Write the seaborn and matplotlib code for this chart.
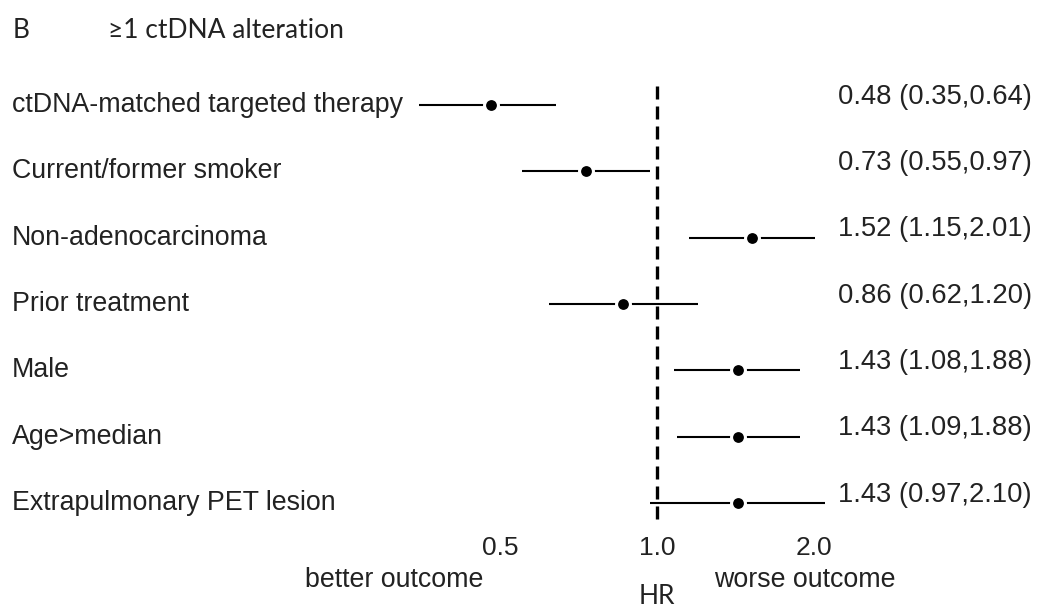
import matplotlib
matplotlib.use("Agg")
import matplotlib.pyplot as plt
import matplotlib.transforms as mtransforms
import seaborn as sns
import pandas as pd

# ---- data ----
labels = ["ctDNA-matched targeted therapy", "Current/former smoker", "Non-adenocarcinoma",
          "Prior treatment", "Male", "Age>median", "Extrapulmonary PET lesion"]
hr = [0.48, 0.73, 1.52, 0.86, 1.43, 1.43, 1.43]
lower = [0.35, 0.55, 1.15, 0.62, 1.08, 1.09, 0.97]
upper = [0.64, 0.97, 2.01, 1.20, 1.88, 1.88, 2.10]
tick_values = [0.5, 1.0, 2.0]
tick_labels = ["0.5", "1.0", "2.0"]

sns.set_theme(style="white")
plt.rcParams["font.family"] = ["Liberation Sans", "DejaVu Sans"]

df = pd.DataFrame({"label": labels, "hr": hr, "lo": lower, "hi": upper})
df["row"] = range(len(df))

W, H = 1037, 609
fig = plt.figure(figsize=(W / 100, H / 100), dpi=100)
ax = fig.add_axes([400 / W, 1 - 530 / H, 440 / W, 450 / H])

txtc = "#222222"
PX = 157  # pixels per doubling

# CI lines
ax.hlines(df["row"], df["lo"], df["hi"], color="black", linewidth=1.5, zorder=2)
# points with white halo
sns.scatterplot(data=df, x="hr", y="row", ax=ax, s=10 ** 2, color="black",
                edgecolor="white", linewidth=2.2, zorder=3, legend=False)
# reference line
ax.vlines(1.0, -0.28, 6.28, color="black", linewidth=2.4,
          linestyles=(0, (3.9, 2.1)), zorder=1)

ax.set_xscale("log", base=2)
ax.set_xlim(2 ** ((400 - 657) / PX), 2 ** ((840 - 657) / PX))
ax.set_ylim(6 + 27 / 66.33, -25 / 66.33)
ax.set_xticks(tick_values)
ax.set_xticklabels(tick_labels)
ax.minorticks_off()
ax.tick_params(axis="x", length=0, pad=4, labelsize=19, labelcolor=txtc)
ax.set_yticks([])
ax.set_xlabel("")
ax.set_ylabel("")
for s in ax.spines.values():
    s.set_visible(False)
ax.patch.set_alpha(0)

blend = mtransforms.blended_transform_factory(fig.transFigure, ax.transData)
blend_up = mtransforms.offset_copy(blend, fig=fig, x=0, y=6, units="points")
for i, r in df.iterrows():
    fig.text(12 / W, r["row"], r["label"], transform=blend, ha="left", va="center",
             fontsize=19.3, color=txtc)
    fig.text(1032 / W, r["row"], f"{r['hr']:.2f} ({r['lo']:.2f},{r['hi']:.2f})",
             transform=blend_up, ha="right", va="center", fontsize=19.7, color=txtc)

# bottom annotations
fig.text(394 / W, 1 - 580 / H, "better outcome", ha="center", va="center", fontsize=19.3, color=txtc)
fig.text(805 / W, 1 - 580 / H, "worse outcome", ha="center", va="center", fontsize=19.3, color=txtc)
fig.text(657 / W, 1 - 597 / H, "HR", ha="center", va="center", fontsize=19,
         family=["Lato", "DejaVu Sans"], color=txtc)

# title
fig.text(13 / W, 1 - 30 / H, "B", ha="left", va="center", fontsize=19,
         family=["Lato", "DejaVu Sans"], color=txtc)
fig.text(108 / W, 1 - 30 / H, "≥1 ctDNA alteration", ha="left", va="center", fontsize=19,
         family=["Lato", "DejaVu Sans"], color=txtc)

fig.savefig("out.png", dpi=100)
